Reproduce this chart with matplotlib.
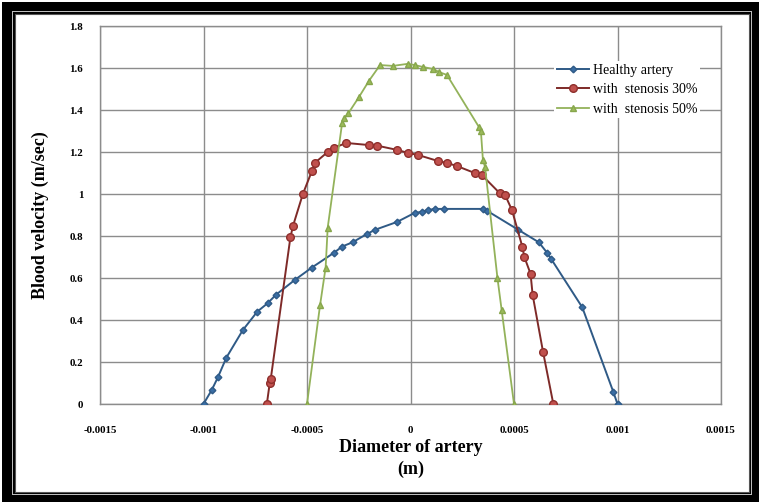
import matplotlib.pyplot as plt
from matplotlib.patches import Rectangle

# Profil prędkości krwi w przekroju tętnicy
healthy_x = [-0.001, -0.00096, -0.00093, -0.00089, -0.00081, -0.00074, -0.00069, -0.00065,
             -0.00056, -0.000476, -0.00037, -0.00033, -0.00028, -0.00021, -0.00017, -0.000065,
             0.00002, 0.000055, 0.000085, 0.00012, 0.00016, 0.00035, 0.00037, 0.00052,
             0.00062, 0.00066, 0.00068, 0.00083, 0.00098, 0.001]
healthy_v = [0, 0.067, 0.128, 0.22, 0.352, 0.44, 0.48, 0.52,
             0.59, 0.65, 0.72, 0.75, 0.77, 0.81, 0.83, 0.867,
             0.91, 0.915, 0.924, 0.929, 0.929, 0.929, 0.92, 0.83,
             0.77, 0.72, 0.69, 0.46, 0.057, 0]

sten30_x = [-0.000694, -0.00068, -0.000675, -0.00058, -0.000567, -0.00052, -0.000476, -0.00046,
            -0.0004, -0.00037, -0.00031, -0.0002, -0.00016, -0.000065, -0.00001, 0.000036,
            0.000133, 0.000176, 0.000225, 0.00031, 0.000345, 0.00043, 0.000457, 0.00049,
            0.00054, 0.00055, 0.00058, 0.00059, 0.00064, 0.00069]
sten30_v = [0, 0.10, 0.12, 0.795, 0.85, 1.0, 1.11, 1.15,
            1.2, 1.22, 1.243, 1.233, 1.23, 1.21, 1.195, 1.186,
            1.157, 1.148, 1.133, 1.1, 1.09, 1.005, 0.995, 0.924,
            0.75, 0.70, 0.62, 0.52, 0.25, 0]

sten50_x = [-0.0005, -0.000437, -0.00041, -0.0004, -0.00033, -0.00032, -0.0003, -0.00025,
            -0.0002, -0.000147, -0.000085, -0.000012, 0.00002, 0.00006, 0.00011, 0.00014,
            0.000176, 0.00033, 0.00034, 0.00035, 0.00036, 0.00042, 0.00044, 0.0005]
sten50_v = [0, 0.47, 0.65, 0.84, 1.34, 1.36, 1.385, 1.46,
            1.54, 1.614, 1.61, 1.62, 1.614, 1.605, 1.595, 1.58,
            1.567, 1.32, 1.30, 1.16, 1.13, 0.6, 0.45, 0]

x_ticks = [-0.0015, -0.001, -0.0005, 0, 0.0005, 0.001, 0.0015]
x_labels = ['-0.0015', '-0.001', '-0.0005', '0', '0.0005', '0.001', '0.0015']
y_ticks = [0, 0.2, 0.4, 0.6, 0.8, 1, 1.2, 1.4, 1.6, 1.8]
y_labels = ['0', '0.2', '0.4', '0.6', '0.8', '1', '1.2', '1.4', '1.6', '1.8']

plt.rcParams['font.family'] = ['Liberation Serif', 'DejaVu Serif']

W, H = 761, 504
fig = plt.figure(figsize=(W / 100, H / 100), dpi=100)
fig.patch.set_facecolor('white')

# ramka wokół wykresu
def px_rect(x0, y0, x1, y1, **kw):
    return Rectangle((x0 / W, 1 - y1 / H), (x1 - x0) / W, (y1 - y0) / H,
                     transform=fig.transFigure, **kw)

fig.patches.append(px_rect(2, 2, 759, 502, facecolor='black', edgecolor='none', zorder=-10))
fig.patches.append(px_rect(12, 11, 752, 495, facecolor='#bdbdbd', edgecolor='none', zorder=-9))
fig.patches.append(px_rect(13, 12, 751, 494, facecolor='black', edgecolor='none', zorder=-8))
fig.patches.append(px_rect(15, 14, 749, 492, facecolor='white', edgecolor='#555555', linewidth=0.8, zorder=-7))

ax = fig.add_axes([100 / W, 1 - 404 / H, 621 / W, 378 / H])
ax.set_facecolor('white')

ax.plot(healthy_x, healthy_v, color='#2f5a86', linewidth=1.4, marker='D', markersize=3.4,
        markerfacecolor='#3a6ea5', markeredgecolor='#2f5a86', label='Healthy artery', zorder=3)
ax.plot(sten30_x, sten30_v, color='#7e2a28', linewidth=1.4, marker='o', markersize=5.5,
        markerfacecolor='#c0504d', markeredgecolor='#8e2f2c', label='with  stenosis 30%', zorder=3)
ax.plot(sten50_x, sten50_v, color='#93b25a', linewidth=1.3, marker='^', markersize=4.5,
        markerfacecolor='#9bbb59', markeredgecolor='#87a64c', label='with  stenosis 50%', zorder=3)

ax.set_xlim(-0.0015, 0.0015)
ax.set_ylim(0, 1.8)
ax.set_xticks(x_ticks)
ax.set_xticklabels(x_labels)
ax.set_yticks(y_ticks)
ax.set_yticklabels(y_labels)
ax.tick_params(axis='x', length=0, pad=16, labelsize=7.8)
ax.tick_params(axis='y', length=0, pad=12, labelsize=7.8)
for lbl in ax.get_xticklabels() + ax.get_yticklabels():
    lbl.set_fontweight('bold')

ax.grid(True, color='#8c8c8c', linewidth=1.0)
ax.set_axisbelow(True)
for s in ax.spines.values():
    s.set_color('#8c8c8c')
    s.set_linewidth(1.0)

ax.set_xlabel('Diameter of artery\n(m)', fontsize=13, fontweight='bold', labelpad=3, linespacing=1.35)
ax.set_ylabel('Blood velocity (m/sec)', fontsize=13, fontweight='bold', labelpad=15)

leg = ax.legend(loc='upper left', bbox_to_anchor=(0.72, 0.925), fontsize=10, frameon=True,
                facecolor='white', edgecolor='none', framealpha=1, fancybox=False,
                handlelength=2.3, handletextpad=0.3, labelspacing=0.45, borderpad=0.2)

fig.savefig('out.png', dpi=100, facecolor=fig.get_facecolor())
